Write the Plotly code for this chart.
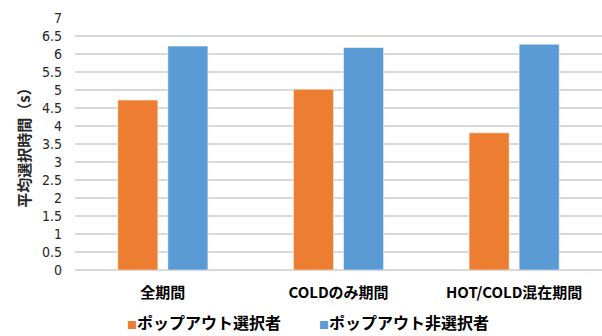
import plotly.graph_objects as go

categories = ["全期間", "COLDのみ期間", "HOT/COLD混在期間"]
series_names = ["ポップアウト選択者", "ポップアウト非選択者"]
popout_selected = [4.72, 5.02, 3.81]
popout_not_selected = [6.22, 6.18, 6.27]
colors = ["#ED7D31", "#5B9BD5"]
y_ticks = [i * 0.5 for i in range(15)]
y_tick_labels = ["0", "0.5", "1", "1.5", "2", "2.5", "3", "3.5", "4", "4.5", "5", "5.5", "6", "6.5", "7"]
y_title = "平均選択時間（s）"

num_font = "DejaVu Sans Condensed, Noto Sans, sans-serif"
jp_font = "Noto Sans CJK JP, Noto Sans, sans-serif"

fig = go.Figure()
for name, vals, col in zip(series_names, [popout_selected, popout_not_selected], colors):
    fig.add_trace(go.Bar(
        x=categories, y=vals, name=name,
        marker=dict(color=col, line=dict(color="rgba(255,255,255,0.5)", width=1)),
        showlegend=False,
    ))

fig.update_layout(
    width=602, height=336,
    margin=dict(l=75, r=0, t=18, b=66),
    paper_bgcolor="white", plot_bgcolor="white",
    barmode="group", bargap=0.43, bargroupgap=0.2,
    font=dict(family=jp_font, color="#000000"),
    showlegend=False,
)
fig.update_yaxes(
    range=[0, 7], tickvals=y_ticks, ticktext=y_tick_labels,
    showgrid=True, gridcolor="#d9d9d9", gridwidth=1.5,
    zeroline=True, zerolinecolor="#d9d9d9", zerolinewidth=1.5,
    showline=False, ticks="",
    tickfont=dict(family=num_font, size=14, color="#262626"),
    ticklabelstandoff=12,
    title=dict(text=y_title, font=dict(family=jp_font, size=15, color="#262626", weight="bold"), standoff=7),
)
fig.update_xaxes(
    showgrid=False, showline=False, ticks="",
    tickfont=dict(family="Noto Sans CJK JP, sans-serif", size=15, color="#000000", weight="bold"),
    ticklabelstandoff=12,
)

# legend as annotation row
legend_x = [0.095, 0.46]
for i, (name, col) in enumerate(zip(series_names, colors)):
    fig.add_annotation(
        xref="paper", yref="paper", x=legend_x[i], y=-0.205, xanchor="left", yanchor="middle",
        text=f"<span style='color:{col};font-size:10px'>■</span>{name}",
        showarrow=False,
        font=dict(family=jp_font, size=16, color="#000000", weight="bold"),
    )

fig.write_html("out.html")
